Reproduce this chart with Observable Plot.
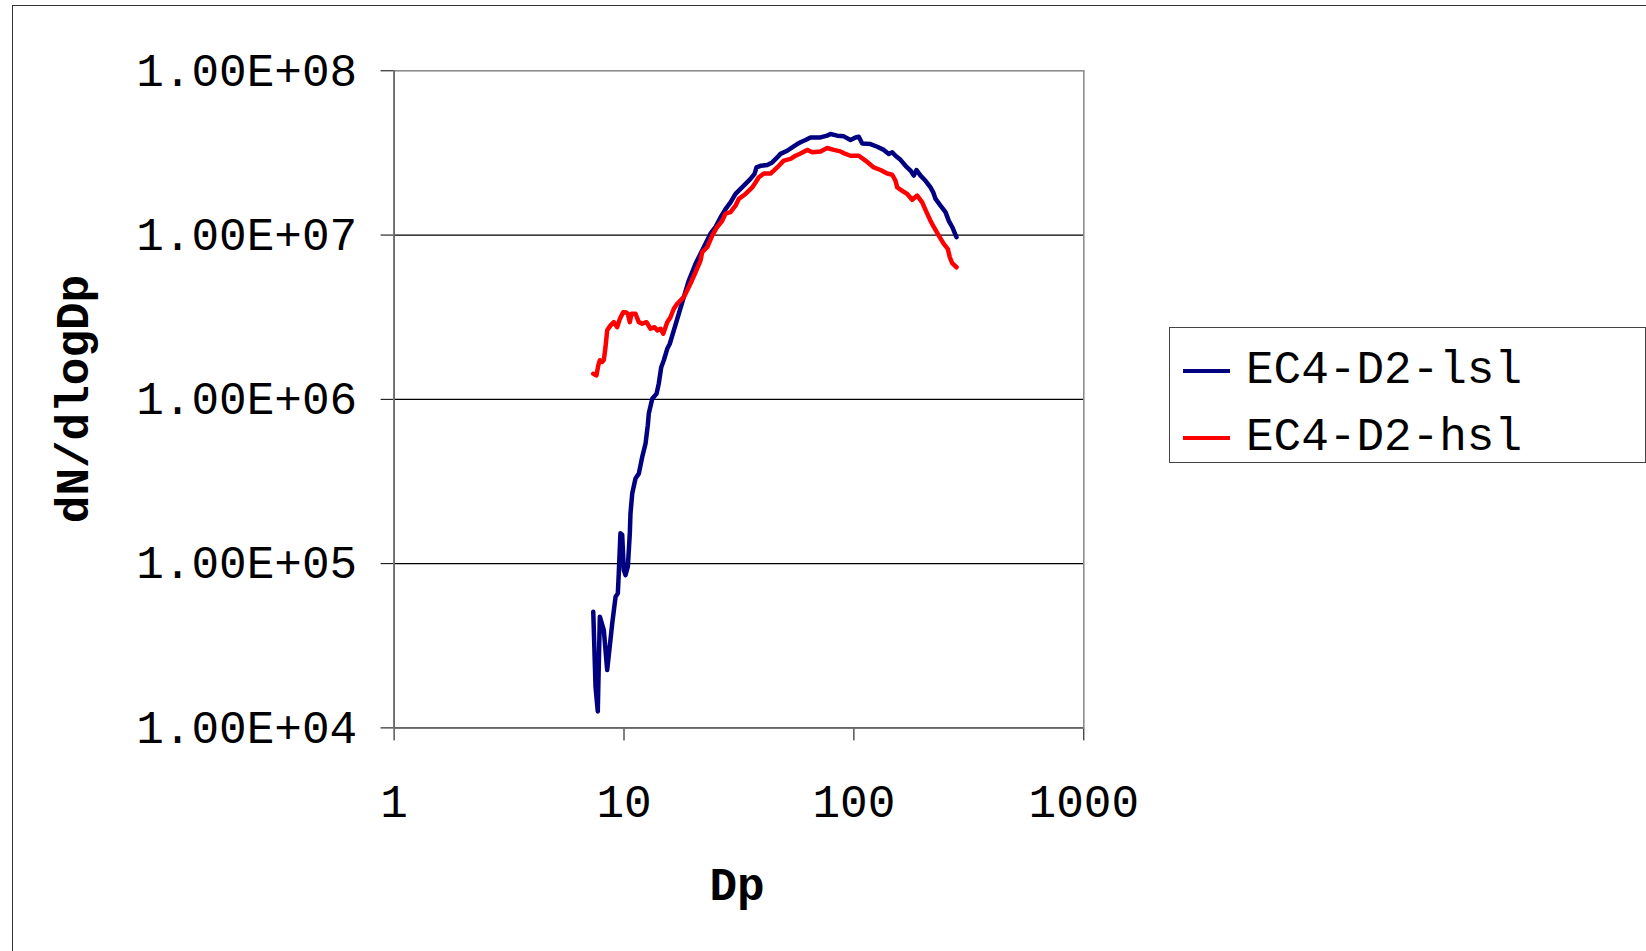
<!DOCTYPE html>
<html><head><meta charset="utf-8">
<script src="https://cdn.jsdelivr.net/npm/d3@7"></script>
<script src="https://cdn.jsdelivr.net/npm/@observablehq/plot@0.6"></script>
<style>
html,body{margin:0;padding:0;overflow:hidden;background:#fff;width:1646px;height:951px}
#wrap{position:relative;width:1646px;height:951px;overflow:hidden}
#border{position:absolute;left:12px;top:5px;width:1700px;height:1000px;border:1.5px solid #333;box-sizing:border-box}
#chart{position:absolute;left:0;top:0}
.atitle{position:absolute;font-family:"Liberation Mono","Courier New",monospace;font-weight:bold;font-size:46px;color:#000;white-space:nowrap}
#xt{left:737px;top:888px;transform:translate(-50%,-50%)}
#yt{left:76px;top:399px;transform:translate(-50%,-50%) rotate(-90deg)}
#legend{position:absolute;left:1169px;top:327px;width:477px;height:136px;border:1.3px solid #444;box-sizing:border-box;background:#fff;font-family:"Liberation Mono","Courier New",monospace;font-size:46px}
.item{position:absolute;left:0;height:40px;display:flex;align-items:center}
.sw{width:47px;height:3.5px;margin-left:13px;margin-right:16px}
</style>
</head><body>
<div id="wrap">
<div id="border"></div>
<div id="chart"></div>
<div class="atitle" id="xt">Dp</div>
<div class="atitle" id="yt">dN/dlogDp</div>
<div id="legend"></div>
</div>
<script>
const seriesNames = ["EC4-D2-lsl", "EC4-D2-hsl"];
const seriesColors = ["#000080", "#FF0000"];
const xTicks = [1, 10, 100, 1000];
const yTicks = [1e4, 1e5, 1e6, 1e7, 1e8];
const gridY = [1e5, 1e6, 1e7];

const lslDp = [7.35,7.52,7.69,7.85,8.17,8.45,8.89,9.19,9.40,9.49,9.65,9.82,9.98,10.15,10.39,10.60,10.67,10.86,11.22,11.60,12.00,12.41,12.69,12.82,13.27,13.85,14.17,14.52,14.90,15.42,15.82,16.47,17.31,18.20,19.14,20.47,21.52,22.62,23.78,25.00,26.29,27.64,29.06,30.55,32.13,33.78,35.50,36.97,37.71,39.25,41.98,44.13,46.39,47.94,51.28,53.90,56.67,58.58,61.60,64.75,71.56,76.53,79.10,84.61,90.38,96.65,101.6,105.0,108.7,118.1,126.3,134.9,141.9,146.8,151.7,159.5,167.7,176.3,182.2,187.2,194.9,204.9,215.4,221.3,226.5,238.1,250.3,258.7,267.7,279.5];
const lslN = [5.09e4,1.78e4,1.26e4,4.75e4,3.94e4,2.25e4,4.33e4,6.28e4,6.59e4,8.72e4,1.53e5,1.50e5,9.13e4,8.51e4,9.57e4,1.53e5,2.02e5,2.67e5,3.30e5,3.53e5,4.46e5,5.38e5,6.95e5,8.19e5,1.01e6,1.08e6,1.25e6,1.57e6,1.73e6,2.03e6,2.18e6,2.63e6,3.32e6,4.19e6,5.29e6,6.68e6,7.69e6,8.84e6,1.02e7,1.12e7,1.28e7,1.44e7,1.58e7,1.78e7,1.91e7,2.05e7,2.20e7,2.36e7,2.58e7,2.64e7,2.67e7,2.77e7,2.97e7,3.12e7,3.26e7,3.42e7,3.58e7,3.67e7,3.79e7,3.93e7,3.93e7,4.03e7,4.12e7,4.03e7,3.99e7,3.79e7,3.93e7,3.97e7,3.61e7,3.58e7,3.45e7,3.30e7,3.12e7,3.19e7,3.04e7,2.87e7,2.64e7,2.47e7,2.30e7,2.49e7,2.30e7,2.14e7,1.95e7,1.82e7,1.66e7,1.51e7,1.38e7,1.22e7,1.12e7,9.70e6];

const hslDp = [7.35,7.59,7.73,7.85,8.04,8.17,8.31,8.45,8.74,9.03,9.34,9.59,9.92,10.15,10.39,10.60,10.78,11.22,11.60,12.00,12.53,13.04,13.58,13.95,14.42,14.81,15.15,15.42,15.93,16.47,17.04,17.62,18.20,18.52,19.47,20.47,21.52,21.88,23.01,24.19,25.43,26.74,27.64,29.06,30.55,31.58,33.78,36.12,37.33,38.59,40.56,43.39,44.84,47.13,49.55,53.00,55.72,58.58,62.64,65.87,71.56,76.53,81.78,87.45,91.93,96.65,105.0,112.3,122.1,130.6,139.6,146.8,151.7,154.3,162.3,170.5,179.3,188.5,198.2,206.9,215.4,222.6,234.0,246.0,256.1,261.3,267.7,279.5];
const hslN = [1.43e6,1.40e6,1.61e6,1.73e6,1.69e6,1.74e6,2.08e6,2.63e6,2.82e6,2.95e6,2.75e6,3.09e6,3.39e6,3.39e6,3.32e6,2.95e6,3.32e6,3.32e6,2.95e6,2.89e6,2.95e6,2.69e6,2.75e6,2.63e6,2.69e6,2.51e6,2.75e6,2.95e6,3.16e6,3.56e6,3.82e6,4.00e6,4.19e6,4.39e6,5.07e6,5.94e6,7.00e6,7.86e6,8.43e6,9.93e6,1.12e7,1.22e7,1.35e7,1.38e7,1.51e7,1.66e7,1.78e7,1.95e7,2.09e7,2.25e7,2.37e7,2.37e7,2.47e7,2.64e7,2.84e7,2.91e7,3.04e7,3.14e7,3.30e7,3.19e7,3.23e7,3.39e7,3.30e7,3.23e7,3.12e7,3.04e7,3.04e7,2.84e7,2.58e7,2.49e7,2.37e7,2.33e7,2.14e7,1.95e7,1.86e7,1.78e7,1.64e7,1.74e7,1.58e7,1.38e7,1.22e7,1.12e7,9.93e6,8.84e6,8.24e6,7.33e6,6.74e6,6.37e6];

const lsl = lslDp.map((d, i) => ({Dp: d, N: lslN[i], s: seriesNames[0]}));
const hsl = hslDp.map((d, i) => ({Dp: d, N: hslN[i], s: seriesNames[1]}));

const FONT = '"Liberation Mono","Courier New",monospace';
const yFmt = d => "1.00E+" + String(Math.round(Math.log10(d))).padStart(2, "0");

const chart = Plot.plot({
  width: 1646, height: 951,
  marginLeft: 393.6, marginRight: 562.7, marginTop: 70.3, marginBottom: 223.6,
  style: {fontFamily: FONT, fontSize: "46px", background: "transparent", color: "#000", overflow: "visible"},
  x: {type: "log", domain: [1, 1000], ticks: xTicks, tickFormat: d => String(d), tickSize: 13, tickPadding: 43, label: null},
  y: {type: "log", domain: [1e4, 1e8], ticks: yTicks, tickFormat: yFmt, tickSize: 13, tickPadding: 24, label: null},
  marks: [
    Plot.ruleY(gridY, {stroke: "#000", strokeWidth: 1.2}),
    Plot.frame({stroke: "#8c8c8c", strokeWidth: 1.6}),
    Plot.ruleX([1], {stroke: "#666", strokeWidth: 1.6}),
    Plot.ruleY([1e4], {stroke: "#666", strokeWidth: 1.6}),
    Plot.line(lsl, {x: "Dp", y: "N", stroke: seriesColors[0], strokeWidth: 4.5, strokeLinejoin: "round", strokeLinecap: "round"}),
    Plot.line(hsl, {x: "Dp", y: "N", stroke: seriesColors[1], strokeWidth: 4.5, strokeLinejoin: "round", strokeLinecap: "round"})
  ]
});
chart.querySelectorAll("[aria-label='x-axis tick'], [aria-label='y-axis tick']").forEach(g => g.setAttribute("stroke", "#000"));
document.getElementById("chart").appendChild(chart);

const legend = document.getElementById("legend");
const tops = [23, 90];
seriesNames.forEach((name, i) => {
  const it = document.createElement("div");
  it.className = "item";
  it.style.top = tops[i] + "px";
  const sw = document.createElement("div");
  sw.className = "sw";
  sw.style.background = seriesColors[i];
  const tx = document.createElement("span");
  tx.textContent = name;
  it.appendChild(sw); it.appendChild(tx);
  legend.appendChild(it);
});
</script>
</body></html>
